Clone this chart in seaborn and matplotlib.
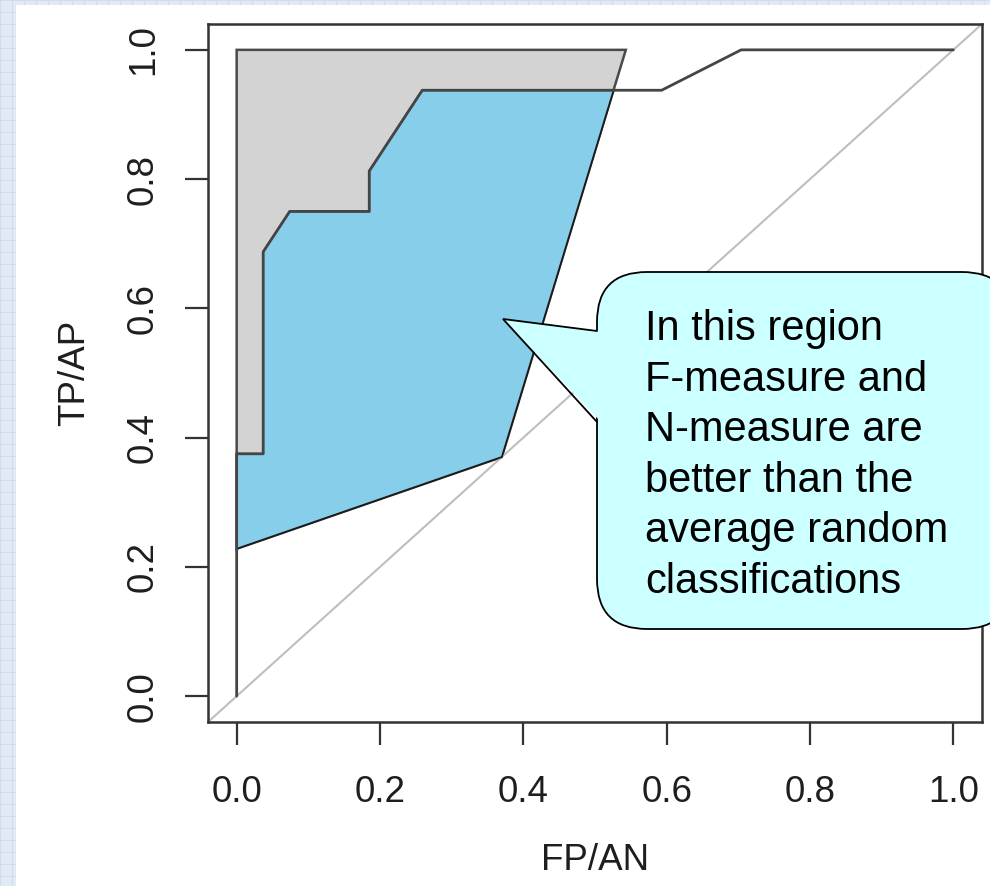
import numpy as np
import pandas as pd
import matplotlib
matplotlib.use("Agg")
import matplotlib.pyplot as plt
from matplotlib.patches import FancyBboxPatch, Polygon, Rectangle
import seaborn as sns

# ---------------- data ----------------
roc_fpr = [0.0, 0.0, 0.037, 0.037, 0.074, 0.185, 0.185, 0.259, 0.593, 0.704, 1.0]
roc_tpr = [0.0, 0.375, 0.375, 0.6875, 0.75, 0.75, 0.8125, 0.9375, 0.9375, 1.0, 1.0]

gray_x = [0.0, 0.0, 0.543, 0.37]
gray_y = [0.228, 1.0, 1.0, 0.37]

blue_x = [0.0, 0.0, 0.037, 0.037, 0.074, 0.185, 0.185, 0.259, 0.526, 0.37]
blue_y = [0.228, 0.375, 0.375, 0.6875, 0.75, 0.75, 0.8125, 0.9375, 0.9375, 0.37]

diag = [0.0, 1.0]

x_ticks = [0.0, 0.2, 0.4, 0.6, 0.8, 1.0]
y_ticks = [0.0, 0.2, 0.4, 0.6, 0.8, 1.0]
x_ticklabels = ["0.0", "0.2", "0.4", "0.6", "0.8", "1.0"]
y_ticklabels = ["0.0", "0.2", "0.4", "0.6", "0.8", "1.0"]
x_label = "FP/AN"
y_label = "TP/AP"
callout_lines = ["In this region", "F-measure and", "N-measure are",
                 "better than the", "average random", "classifications"]

# ---------------- style ----------------
sns.set_style("white")
plt.rcParams['font.family'] = ['Liberation Sans', 'DejaVu Sans']

W, H = 990, 886
fig = plt.figure(figsize=(W / 100, H / 100), dpi=100)
fig.patch.set_facecolor('#e2eaf6')

# background (slide) layer in pixel coordinates
bg = fig.add_axes([0, 0, 1, 1], zorder=-10)
bg.set_xlim(0, W)
bg.set_ylim(H, 0)
bg.axis('off')
bg.patch.set_alpha(0)
for gx in np.arange(0, W, 12):
    bg.axvline(gx, color='#d0dcef', lw=0.8, zorder=1)
for gy in np.arange(0, H, 12):
    bg.axhline(gy, color='#d0dcef', lw=0.8, zorder=1)
bg.add_patch(Rectangle((16, 5), W - 16, H - 5, facecolor='white',
                       edgecolor='none', zorder=5))

# ---------------- main axes ----------------
L, R, T, B = 208, 982, 24, 722
ax = fig.add_axes([L / W, 1 - B / H, (R - L) / W, (B - T) / H], zorder=0)
ax.set_facecolor('white')

ax.fill(gray_x, gray_y, facecolor='#d3d3d3', edgecolor='#4a4a4a', lw=1.8, zorder=1)
ax.fill(blue_x, blue_y, facecolor='#87ceeb', edgecolor='#1a1a1a', lw=1.3, zorder=2)
ax.axline((diag[0], diag[0]), (diag[1], diag[1]), color='#bebebe', lw=1.5, zorder=1.5)

roc_df = pd.DataFrame({'fpr': roc_fpr, 'tpr': roc_tpr})
sns.lineplot(data=roc_df, x='fpr', y='tpr', sort=False, estimator=None,
             color='#454545', lw=2.0, ax=ax, zorder=3)

ax.set_xlim(-0.04, 1.04)
ax.set_ylim(-0.04, 1.04)
ax.set_xticks(x_ticks)
ax.set_xticklabels(x_ticklabels)
ax.set_yticks(y_ticks)
ax.set_yticklabels(y_ticklabels, rotation=90, va='center')

for sp in ax.spines.values():
    sp.set_visible(True)
    sp.set_color('#333333')
    sp.set_linewidth(1.8)

ax.tick_params(axis='both', direction='out', length=16.5, width=1.6,
               color='#333333', labelsize=26.5, labelcolor='#1e1e1e',
               bottom=True, left=True, top=False, right=False)
ax.tick_params(axis='x', pad=22)
ax.tick_params(axis='y', pad=17.5)

ax.set_xlabel(x_label, fontsize=26.5, color='#1e1e1e')
ax.set_ylabel(y_label, fontsize=26.5, color='#1e1e1e')
ax.xaxis.set_label_coords(0.5, -(843 - B) / (B - T))
ax.yaxis.set_label_coords(-(L - 92) / (R - L), 0.5)

# ---------------- callout overlay ----------------
ov = fig.add_axes([0, 0, 1, 1], zorder=5)
ov.set_xlim(0, W)
ov.set_ylim(H, 0)
ov.axis('off')
ov.patch.set_alpha(0)

box = FancyBboxPatch((597, 272), 1012 - 597, 629 - 272,
                     boxstyle="round,pad=0,rounding_size=50",
                     facecolor='#ccffff', edgecolor='black', lw=1.3)
ov.add_patch(box)
tip = (503, 319)
b1 = (597, 331)
b2 = (597, 422)
ov.add_patch(Polygon([tip, (b1[0] + 4, b1[1]), (b2[0] + 4, b2[1])], closed=True,
                     facecolor='#ccffff', edgecolor='none'))
ov.plot([b1[0], tip[0], b2[0]], [b1[1], tip[1], b2[1]], color='black', lw=1.3,
        solid_joinstyle='miter')

for i, line in enumerate(callout_lines):
    ov.text(645, 340 + i * 50.6, line, fontsize=30, color='black',
            ha='left', va='baseline')

fig.savefig('out.png', dpi=100)
